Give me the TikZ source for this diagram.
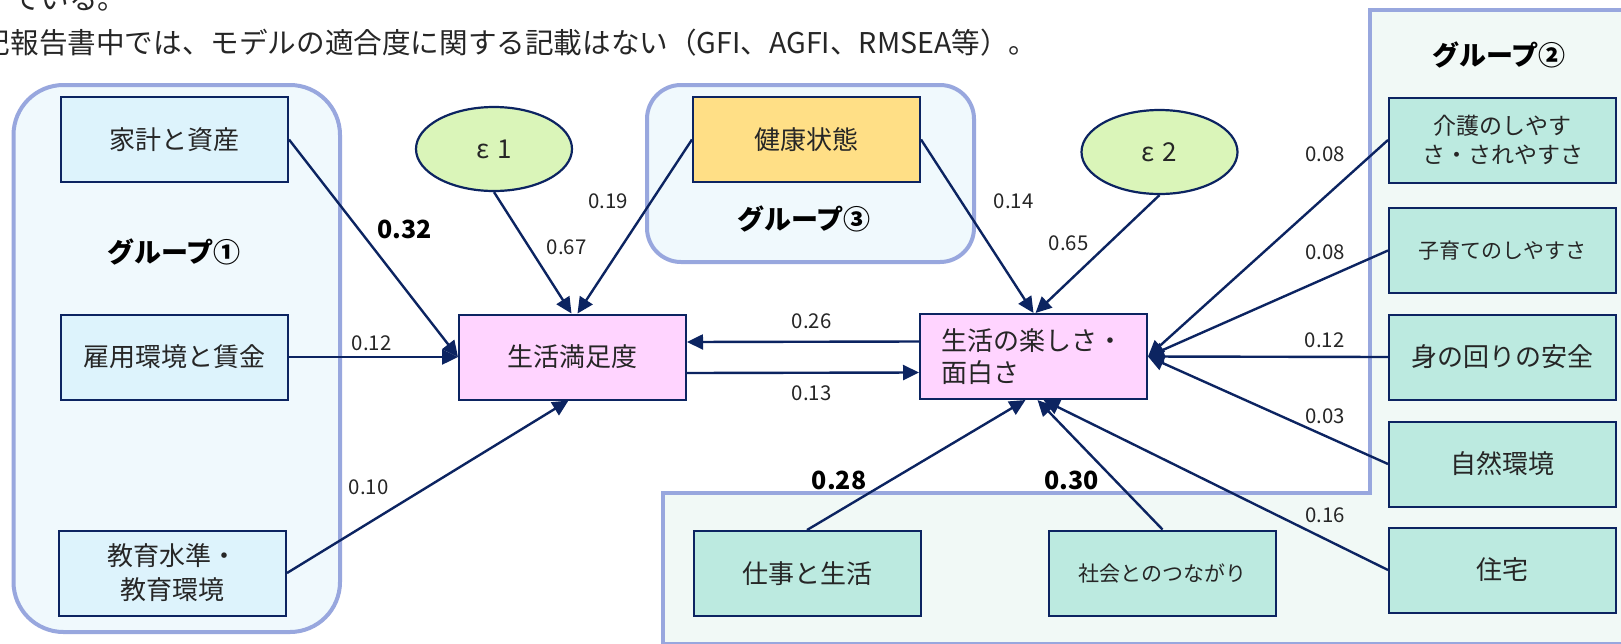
\documentclass[tikz,border=0pt]{standalone}
\usepackage{fontspec}
\setmainfont{Noto Sans CJK JP}
\usetikzlibrary{arrows.meta,shapes.geometric}
\definecolor{navy}{HTML}{0C2461}
\definecolor{grpline}{HTML}{98A7DE}
\definecolor{grpblue}{HTML}{F0F9FD}
\definecolor{grpmint}{HTML}{F1F9F6}
\definecolor{cyanbox}{HTML}{DDF3FC}
\definecolor{pinkbox}{HTML}{FFD4FF}
\definecolor{goldbox}{HTML}{FFDF86}
\definecolor{mintbox}{HTML}{BCEAE0}
\definecolor{epsfill}{HTML}{DAF5B9}
\definecolor{txt}{HTML}{262626}
\tikzset{
  var/.style={draw=navy, line width=1pt, minimum width=113.5pt, minimum height=42.5pt,
    inner sep=0pt, align=center, text=txt, font=\fontsize{13}{17}\selectfont},
  err/.style={ellipse, draw=navy, line width=1.1pt, fill=epsfill, minimum width=78pt,
    minimum height=42pt, text=txt, font=\fontsize{13}{15}\selectfont},
  grp/.style={draw=grpline, line width=2pt},
  coef/.style={text=txt, inner sep=0pt, font=\fontsize{10.2}{12}\selectfont},
  bigcoef/.style={inner sep=0pt, font=\bfseries\fontsize{12.5}{14}\selectfont},
  grplabel/.style={font=\bfseries\fontsize{13.5}{16}\selectfont},
  note/.style={anchor=west, inner sep=0pt, text=txt, font=\fontsize{14.3}{16}\selectfont},
  link/.style={draw=navy, line width=1.2pt, -{Triangle[length=8pt,width=7.5pt]}}
}
\begin{document}
\begin{tikzpicture}[x=0.5pt,y=-0.5pt]
  \useasboundingbox (0,0) rectangle (1621,643);
  \clip (0,0) rectangle (1621,643);
  \fill[white] (0,0) rectangle (1621,643);

  \draw[grp, fill=grpblue, rounded corners=25pt] (13.5,85) rectangle (340,632);
  \draw[grp, fill=grpblue, rounded corners=17pt] (647,85) rectangle (974,262);
  \draw[grp, fill=grpmint] (663,650) -- (663,493) -- (1370,493) -- (1370,10) -- (1640,10) -- (1640,644) -- (663,644) -- cycle;

  \node[note] (note1) at (11.4,-0.5) {ている。};
  \node[note] (note2) at (-18.6,42.5) {記報告書中では、モデルの適合度に関する記載はない（GFI、AGFI、RMSEA等）。};

  \node[grplabel] (g1) at (174,252) {グループ①};
  \node[grplabel] (g3) at (804,219) {グループ③};
  \node[grplabel] (g2) at (1499,55) {グループ②};

  \node[var, fill=cyanbox] (kakei) at (174.5,139.5) {家計と資産};
  \node[var, fill=cyanbox] (koyou) at (174,357) {雇用環境と賃金};
  \node[var, fill=cyanbox] (kyouiku) at (172.5,573) {教育水準・\\教育環境};
  \node[var, fill=pinkbox] (manzoku) at (572.5,357) {生活満足度};
  \node[var, fill=goldbox] (kenkou) at (806.5,139.5) {健康状態};
  \node[var, fill=pinkbox, align=left, text width=92.5pt, inner xsep=10.5pt,
    font=\fontsize{13}{16}\selectfont] (tanoshisa) at (1033.5,356.5) {生活の楽しさ・\\面白さ};
  \node[var, fill=mintbox, font=\fontsize{11.5}{14.5}\selectfont] (kaigo) at (1502.5,140) {介護のしやす\\さ・されやすさ};
  \node[var, fill=mintbox, font=\fontsize{10.5}{13}\selectfont] (kosodate) at (1502.5,250.5) {子育てのしやすさ};
  \node[var, fill=mintbox] (anzen) at (1502.5,357) {身の回りの安全};
  \node[var, fill=mintbox] (shizen) at (1502.5,464) {自然環境};
  \node[var, fill=mintbox] (jutaku) at (1502.5,570) {住宅};
  \node[var, fill=mintbox] (shigoto) at (807,573.5) {仕事と生活};
  \node[var, fill=mintbox, font=\fontsize{10.5}{13}\selectfont] (shakai) at (1162.5,573) {社会とのつながり};

  \node[err] (eps1) at (494,149) {ε\hspace{4pt}1};
  \node[err] (eps2) at (1159.5,152) {ε\hspace{4pt}2};

  \draw[link] (kakei.east) -- (manzoku.west);
  \draw[link] (koyou.east) -- (manzoku.west);
  \draw[link] (kyouiku.east) -- ([xshift=-2pt]manzoku.south);
  \draw[link] (eps1.south) -- ([xshift=-0.5pt]manzoku.north);
  \draw[link] (kenkou.west) -- ([xshift=2.5pt]manzoku.north);
  \draw[link] ([yshift=7.5pt]tanoshisa.west) -- ([yshift=7.5pt]manzoku.east);
  \draw[link] ([yshift=-8pt]manzoku.east) -- ([yshift=-8pt]tanoshisa.west);
  \draw[link] (kenkou.east) -- (tanoshisa.north);
  \draw[link] (eps2.south) -- ([xshift=1pt]tanoshisa.north);
  \draw[link] (kaigo.west) -- (tanoshisa.east);
  \draw[link] (kosodate.west) -- (tanoshisa.east);
  \draw[link] (anzen.west) -- (tanoshisa.east);
  \draw[link] (shizen.west) -- (tanoshisa.east);
  \draw[link] (jutaku.west) -- ([xshift=5pt]tanoshisa.south);
  \draw[link] (shigoto.north) -- ([xshift=-4pt]tanoshisa.south);
  \draw[link] (shakai.north) -- ([xshift=2pt]tanoshisa.south);

  \node[bigcoef] (c1) at (404.5,229.5) {0.32};
  \node[coef] (c2) at (371.5,343) {0.12};
  \node[coef] (c3) at (368.5,487.5) {0.10};
  \node[coef] (c4) at (566.5,247) {0.67};
  \node[coef] (c5) at (608,201) {0.19};
  \node[coef] (c6) at (811.5,321) {0.26};
  \node[coef] (c7) at (811.5,393) {0.13};
  \node[coef] (c8) at (1013.5,201) {0.14};
  \node[coef] (c9) at (1068.5,243.5) {0.65};
  \node[coef] (c10) at (1325,154.5) {0.08};
  \node[coef] (c11) at (1325,252.5) {0.08};
  \node[coef] (c12) at (1324.5,340.7) {0.12};
  \node[coef] (c13) at (1325,416.5) {0.03};
  \node[coef] (c14) at (1325,515) {0.16};
  \node[bigcoef] (c15) at (839,480) {0.28};
  \node[bigcoef] (c16) at (1071.5,480) {0.30};
\end{tikzpicture}
\end{document}
